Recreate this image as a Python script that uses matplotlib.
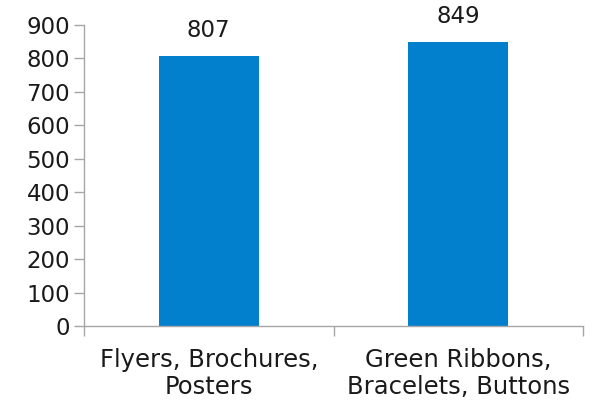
import matplotlib.pyplot as plt

categories = ["Flyers, Brochures,\nPosters", "Green Ribbons,\nBracelets, Buttons"]
values = [807, 849]

plt.rcParams["font.family"] = ["DejaVu Sans"]
text_color = "#1a1a1a"
axis_color = "#a6a6a6"

fig = plt.figure(figsize=(5.93, 4.01), dpi=100)
ax = fig.add_axes([84 / 593, 75 / 401, 499 / 593, 301 / 401])

x = list(range(len(categories)))
bars = ax.bar(x, values, width=0.4, color="#0380cd")

for xi, v in zip(x, values):
    ax.annotate(str(v), (xi, v), xytext=(0, 10), textcoords="offset points",
                ha="center", va="bottom", fontsize=16.5, color=text_color)

ax.set_xlim(-0.5, len(categories) - 0.5)
ax.set_ylim(0, 900)
ax.set_yticks(range(0, 901, 100))
ax.tick_params(axis="y", labelsize=16.5, colors=axis_color, labelcolor=text_color,
               length=7, width=1, pad=3)

# category boundaries as major ticks, labels on minor ticks
ax.set_xticks([i - 0.5 for i in range(len(categories) + 1)])
ax.set_xticklabels([])
ax.set_xticks(x, minor=True)
ax.set_xticklabels(categories, minor=True, linespacing=1.15)
ax.tick_params(axis="x", which="major", length=7, width=1, colors=axis_color)
ax.tick_params(axis="x", which="minor", length=0, labelsize=17.5, labelcolor=text_color, pad=16)

for side in ["top", "right"]:
    ax.spines[side].set_visible(False)
for side in ["left", "bottom"]:
    ax.spines[side].set_color(axis_color)
    ax.spines[side].set_linewidth(1)

fig.savefig("out.png", dpi=100)
